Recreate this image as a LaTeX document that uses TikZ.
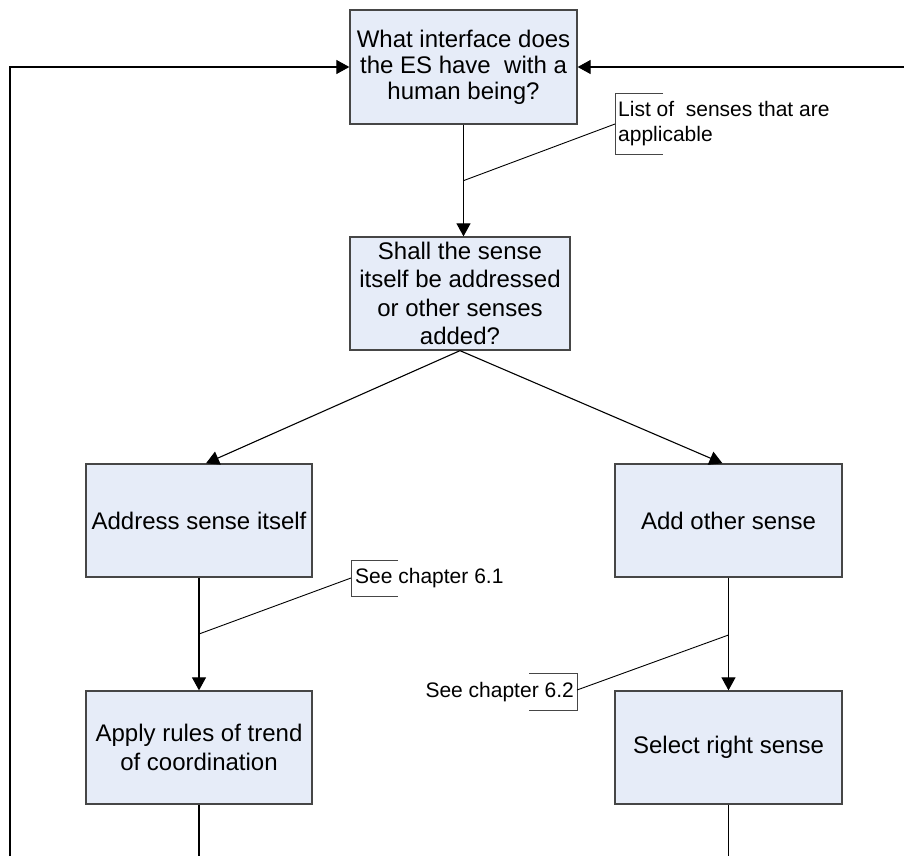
\documentclass[tikz,border=0pt]{standalone}
\usepackage{fontspec}
\setmainfont{Liberation Sans}
\usetikzlibrary{arrows.meta,calc}
\definecolor{boxfill}{RGB}{230,236,248}
\definecolor{boxline}{RGB}{70,70,70}
\begin{document}
\begin{tikzpicture}[x=1pt,y=-1pt,
  stepbox/.style={draw=boxline, fill=boxfill, line width=1.3pt, align=center,
    inner sep=0pt, minimum height=113pt, font=\fontsize{24}{27}\selectfont},
  flow/.style={line width=1.1pt, -{Triangle[length=13pt,width=14pt]}},
  plain/.style={line width=1.1pt},
  note/.style={font=\fontsize{21}{25}\selectfont, inner sep=0pt, align=left},
  bracket/.style={draw=boxline, line width=0.9pt},
  lead/.style={line width=0.9pt}]
\useasboundingbox (0,0) rectangle (904,856);

% process boxes
\node[stepbox, minimum width=227pt, minimum height=114pt, font=\fontsize{24}{26}\selectfont]
  (q1) at (463.5,67) {What interface does\\the ES have\ \ with a\\human being?};
\node[stepbox, minimum width=220pt, font=\fontsize{24}{28.5}\selectfont]
  (q2) at (460,293.5) {Shall the sense\\itself be addressed\\or other senses\\added?};
\node[stepbox, minimum width=226pt] (addr) at (199,520.5) {Address sense itself};
\node[stepbox, minimum width=227pt] (add) at (728.5,520.5) {Add other sense};
\node[stepbox, minimum width=226pt, font=\fontsize{24}{29}\selectfont]
  (rules) at (199,747.5) {Apply rules of trend\\of coordination};
\node[stepbox, minimum width=227pt] (sel) at (728.5,747.5) {Select right sense};

% annotations
\node[note, anchor=west] (n1) at (618,123.5) {List of\ \ senses that are\\applicable};
\node[note, anchor=west] (n2) at (355,578) {See chapter 6.1};
\node[note, anchor=east] (n3) at (574,692) {See chapter 6.2};

\draw[bracket] (663,93) -- (615,93) -- (615,154) -- (663,154);
\draw[bracket] (398,560) -- (351,560) -- (351,596) -- (398,596);
\draw[bracket] (529,673) -- (577,673) -- (577,710) -- (529,710);

% helper points
\coordinate (t1) at (615,124);
\coordinate (t2) at (351,578);
\coordinate (t3) at (577,690);
\coordinate (j1) at ($(q1.south)+(0,56)$);
\coordinate (j2) at (199,634);
\coordinate (j3) at (728.5,635);
\coordinate (floor) at (0,856);
\coordinate (lft) at (10,856);
\coordinate (rgt) at (904,66);

% connectors
\draw[flow] (q1.south) -- (q1.south |- q2.north);
\draw[lead] (t1) -- (j1);
\draw[flow] (q2.south) -- ($(addr.north)+(7,0)$);
\draw[flow] (q2.south) -- ($(add.north)+(-6,0)$);
\draw[flow] (addr.south) -- (rules.north);
\draw[lead] (t2) -- (j2);
\draw[flow] (add.south) -- (sel.north);
\draw[lead] (t3) -- (j3);
\draw[plain] (rules.south) -- (rules.south |- floor);
\draw[plain] (sel.south) -- (sel.south |- floor);

% feedback loops into the first question
\draw[flow] (lft) |- (q1.west);
\draw[flow] (q1.east -| rgt) -- (q1.east);
\end{tikzpicture}
\end{document}
